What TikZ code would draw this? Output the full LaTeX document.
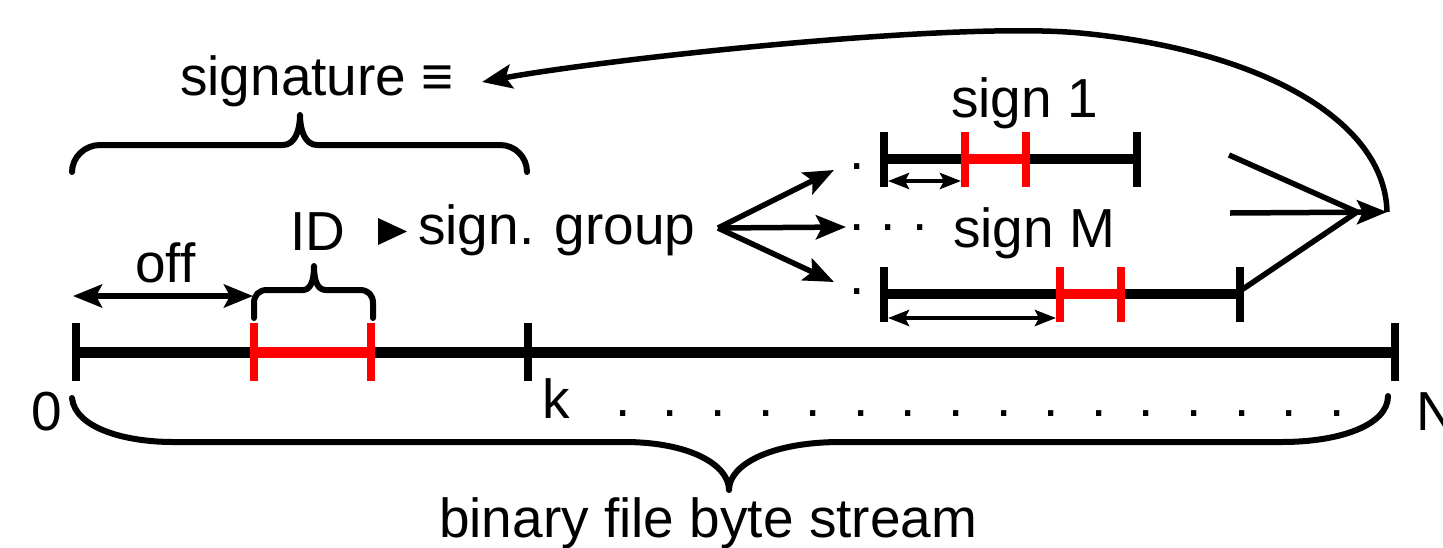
\documentclass[tikz,border=0pt]{standalone}
\usepackage{fontspec}
\setmainfont{Liberation Sans}
\usetikzlibrary{arrows.meta}
\begin{document}
\begin{tikzpicture}[x=1pt,y=-1pt,
  lbl/.style={font=\fontsize{55}{60}\selectfont, inner sep=0pt, anchor=base west},
  dotlbl/.style={font=\fontsize{55}{60}\selectfont, inner sep=0pt, anchor=base},
  mainbar/.style={line width=11pt},
  sbar/.style={line width=10pt},
  tickmark/.style={line width=8pt},
  bracepath/.style={line width=6pt, line join=round, line cap=round},
  conn/.style={line width=5.5pt},
  bigtip/.style={-{Stealth[length=30pt,width=24pt,inset=6pt]}},
  offtips/.style={{Stealth[length=29pt,width=23pt,inset=6pt]}-{Stealth[length=29pt,width=23pt,inset=6pt]}},
  smalltips/.style={{Stealth[length=21pt,width=16pt,inset=4pt]}-{Stealth[length=21pt,width=16pt,inset=4pt]}},
]
\useasboundingbox (0,0) rectangle (1443,547);

% ---- texts
\node[lbl] (sig) at (180,95) {signature ≡};
\node[lbl] (id) at (290,250) {ID};
\node[lbl] (off) at (135,282) {off};
\node[lbl] (sg) at (418,244) {sign. group};
\node[lbl] (s1) at (951,117) {sign 1};
\node[lbl] (sM) at (953,247) {sign M};
\node[lbl] (zero) at (31,430) {0};
\node[lbl] (k) at (542,418) {k};
\node[lbl] (N) at (1416,430) {N};
\node[lbl] (bfs) at (439,537) {binary file byte stream};

% dots next to the fan of arrows
\node[dotlbl] (d1) at (857,169) {.};
\node[dotlbl] (d2) at (857,230) {.};
\node[dotlbl] (d3) at (888,230) {.};
\node[dotlbl] (d4) at (920,230) {.};
\node[dotlbl] (d5) at (857,294) {.};
% dots along the stream
\foreach \i in {0,...,15} {
  \node[dotlbl] (bd\i) at ({623+47.6*\i},416) {.};
}

% triangle before sign. group
\fill (378,218) -- (407,231.5) -- (378,245) -- cycle;

% ---- main byte stream
\coordinate (m0) at (76,352);
\coordinate (mN) at (1395,352);
\coordinate (r1) at (254,352);
\coordinate (r2) at (371,352);
\draw[mainbar] (m0) -- (mN);
\draw[mainbar, red] (r1) -- (r2);
\draw[tickmark] (76,323) -- (76,381);
\draw[tickmark] (528,323) -- (528,381);
\draw[tickmark] (1395,323) -- (1395,381);
\draw[tickmark, red] (254,323) -- (254,381);
\draw[tickmark, red] (371,323) -- (371,381);

% off arrow
\coordinate (offa) at (73,296);
\coordinate (offb) at (253,296);
\draw[conn, offtips] (offa) -- (offb);

% ---- sign 1
\coordinate (a0) at (884,159);
\coordinate (a1) at (1137,159);
\coordinate (ar1) at (965,159);
\coordinate (ar2) at (1026,159);
\draw[sbar] (a0) -- (a1);
\draw[sbar, red] (ar1) -- (ar2);
\draw[tickmark] (884,132) -- (884,187);
\draw[tickmark] (1137,132) -- (1137,187);
\draw[tickmark, red] (965,132) -- (965,187);
\draw[tickmark, red] (1026,132) -- (1026,187);
\coordinate (sa1) at (888,181);
\coordinate (sa2) at (961,181);
\draw[line width=4.5pt, smalltips] (sa1) -- (sa2);

% ---- sign M
\coordinate (b0) at (884,294);
\coordinate (b1) at (1240,294);
\coordinate (br1) at (1060,294);
\coordinate (br2) at (1121,294);
\draw[sbar] (b0) -- (b1);
\draw[sbar, red] (br1) -- (br2);
\draw[tickmark] (884,267) -- (884,322);
\draw[tickmark] (1240,267) -- (1240,322);
\draw[tickmark, red] (1060,267) -- (1060,322);
\draw[tickmark, red] (1121,267) -- (1121,322);
\coordinate (sb1) at (888,318);
\coordinate (sb2) at (1056,318);
\draw[line width=4.5pt, smalltips] (sb1) -- (sb2);

% ---- fan from sign. group
\coordinate (fan) at (718,228);
\coordinate (t1) at (834,170);
\coordinate (t2) at (846,227);
\coordinate (t3) at (834,282);
\draw[conn, bigtip] (fan) -- (t1);
\draw[conn, bigtip] (fan) -- (t2);
\draw[conn, bigtip] (fan) -- (t3);

% ---- converging lines
\coordinate (c1) at (1229,155);
\coordinate (c2) at (1230,213);
\coordinate (c3) at (1240,291);
\coordinate (cv) at (1357,212);
\coordinate (ct) at (1387,212);
\draw[conn] (c1) -- (cv);
\draw[conn] (c3) -- (cv);
\draw[conn, bigtip] (c2) -- (ct);

% ---- big curve back to signature
\coordinate (ctop) at (1080,33);
\coordinate (sigtip) at (482,82);
\draw[conn, bigtip] (ct) .. controls (1385,120) and (1260,50) .. (ctop)
  .. controls (950,21) and (600,60) .. (sigtip);

% ---- braces
\draw[bracepath] (72,172) .. controls (72,157) and (85,145) .. (100,145)
  -- (283,145) .. controls (295,145) and (300,130) .. (300,115)
  .. controls (300,130) and (305,145) .. (317,145)
  -- (500,145) .. controls (515,145) and (527,157) .. (527,172);

\draw[bracepath] (254,318) -- (254,303) .. controls (254,295) and (259,290) .. (267,290)
  -- (303,290) .. controls (310,290) and (314,282) .. (314,266)
  .. controls (314,282) and (318,290) .. (326,290)
  -- (360,290) .. controls (368,290) and (373,295) .. (373,303) -- (373,318);

\draw[bracepath] (72,398) .. controls (75,428) and (125,442) .. (173,442)
  -- (624,442) .. controls (690,442) and (729,465) .. (729,490)
  .. controls (729,465) and (770,442) .. (841,442)
  -- (1282,442) .. controls (1340,442) and (1388,425) .. (1388,396);
\end{tikzpicture}
\end{document}
